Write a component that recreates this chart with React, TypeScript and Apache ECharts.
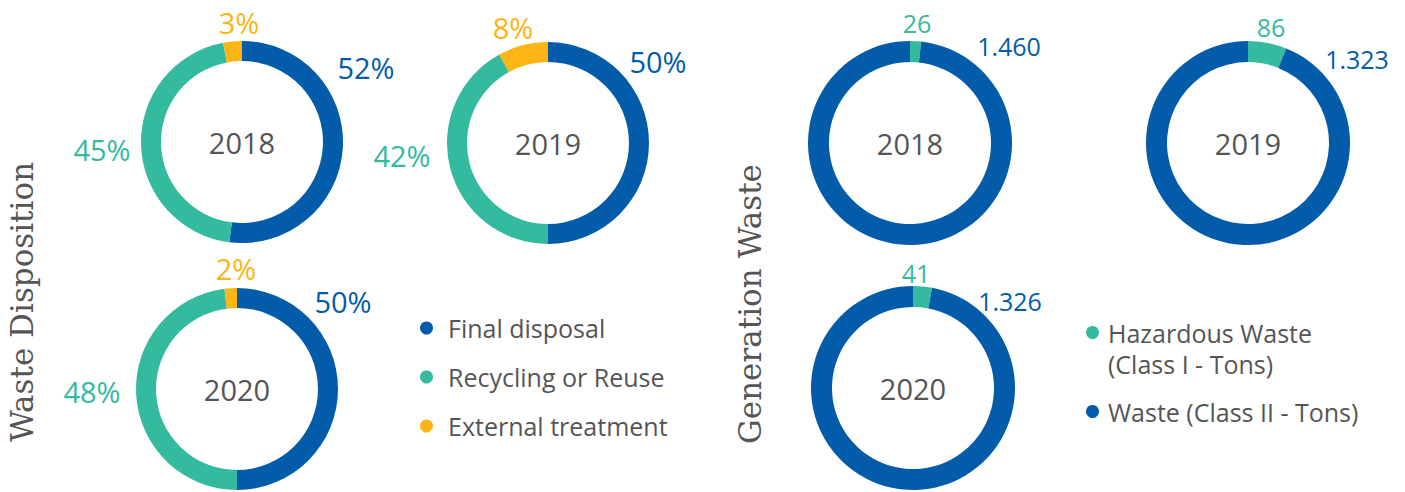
import { useEffect, useRef } from "react";
import * as echarts from "echarts";

// ---------- data ----------
const dispositionNames = ["Final disposal", "Recycling or Reuse", "External treatment"];
const dispositionYears = ["2018", "2019", "2020"];
const finalDisposal = [52, 50, 50];
const recyclingOrReuse = [45, 42, 48];
const externalTreatment = [3, 8, 2];

const generationNames = ["Hazardous Waste (Class I - Tons)", "Waste (Class II - Tons)"];
const generationYears = ["2018", "2019", "2020"];
const hazardousWaste = [26, 86, 41];
const classTwoWaste = [1460, 1323, 1326];

const titles = ["Waste Disposition", "Generation Waste"];

// ---------- layout / style ----------
const BLUE = "#035CA9";
const TEAL = "#34BA9F";
const YELLOW = "#FDB515";
const GRAY = "#555555";
const SANS = "'Open Sans', 'Noto Sans', sans-serif";
const SERIF = "'DejaVu Serif', serif";

const leftCenters = [[242, 142], [548, 143], [237, 389]];
const rightCenters = [[910, 143], [1248, 143], [913, 388]];
const leftLabelOffsets = [
  [[124, -75], [-140, 7], [-3, -120]],
  [[110, -82], [-146, 12], [-35, -116]],
  [[106, -88], [-145, 2], [-1, -121]],
];
const rightLabelOffsets = [
  [[7, -120], [99, -97]],
  [[23, -116], [109, -84]],
  [[3, -115], [97, -87]],
];

function fmtTons(n: number): string {
  if (n >= 1000) {
    return Math.floor(n / 1000) + "." + String(n % 1000).padStart(3, "0");
  }
  return String(n);
}

export default function App() {
  const ref = useRef<HTMLDivElement>(null);

  useEffect(() => {
    if (!ref.current) return;
    const chart = echarts.init(ref.current, undefined, { renderer: "svg" });

    const leftColors = [BLUE, TEAL, YELLOW];
    const rightColors = [TEAL, BLUE];

    const series: any[] = [];

    dispositionYears.forEach((year, i) => {
      const values = [finalDisposal[i], recyclingOrReuse[i], externalTreatment[i]];
      const [cx, cy] = leftCenters[i];
      series.push({
        type: "pie",
        name: "Waste Disposition " + year,
        center: [cx, cy],
        radius: [81, 101],
        startAngle: 90,
        clockwise: true,
        avoidLabelOverlap: false,
        silent: true,
        itemStyle: { borderWidth: 0 },
        labelLine: { show: false },
        label: {
          show: true,
          position: "outside",
          fontFamily: SANS,
          fontSize: 29,
          formatter: "{c}%",
        },
        labelLayout: (p: any) => {
          const [dx, dy] = leftLabelOffsets[i][p.dataIndex];
          return { x: cx + dx, y: cy + dy, align: "center", verticalAlign: "middle" };
        },
        data: dispositionNames.map((n, k) => ({
          name: n,
          value: values[k],
          itemStyle: { color: leftColors[k] },
          label: { color: leftColors[k] },
        })),
      });
    });

    generationYears.forEach((year, i) => {
      const values = [hazardousWaste[i], classTwoWaste[i]];
      const [cx, cy] = rightCenters[i];
      series.push({
        type: "pie",
        name: "Generation Waste " + year,
        center: [cx, cy],
        radius: [81, 102],
        startAngle: 90,
        clockwise: true,
        avoidLabelOverlap: false,
        silent: true,
        itemStyle: { borderWidth: 0 },
        labelLine: { show: false },
        label: {
          show: true,
          position: "outside",
          fontFamily: SANS,
          fontSize: 25,
          formatter: (p: any) => fmtTons(p.value),
        },
        labelLayout: (p: any) => {
          const [dx, dy] = rightLabelOffsets[i][p.dataIndex];
          return { x: cx + dx, y: cy + dy, align: "center", verticalAlign: "middle" };
        },
        data: generationNames.map((n, k) => ({
          name: n,
          value: values[k],
          itemStyle: { color: rightColors[k] },
          label: { color: rightColors[k] },
        })),
      });
    });

    const graphics: any[] = [];
    const yearText = (year: string, c: number[]) => ({
      type: "text",
      x: c[0],
      y: c[1],
      silent: true,
      style: {
        text: year,
        align: "center",
        verticalAlign: "middle",
        fontFamily: SANS,
        fontSize: 29,
        fill: GRAY,
      },
    });
    dispositionYears.forEach((year, i) => graphics.push(yearText(year, leftCenters[i])));
    generationYears.forEach((year, i) => graphics.push(yearText(year, rightCenters[i])));

    const sideTitle = (text: string, x: number, y: number) => ({
      type: "text",
      x,
      y,
      rotation: Math.PI / 2,
      silent: true,
      style: {
        text,
        align: "center",
        verticalAlign: "middle",
        fontFamily: SERIF,
        fontSize: 31,
        fontWeight: 300,
        fill: GRAY,
      },
    });
    graphics.push(sideTitle(titles[0], 22, 302));
    graphics.push(sideTitle(titles[1], 750, 304));

    chart.setOption({
      animation: false,
      backgroundColor: "#ffffff",
      legend: [
        {
          orient: "vertical",
          left: 420,
          top: 315,
          padding: 0,
          icon: "circle",
          itemWidth: 13,
          itemHeight: 13,
          itemGap: 23,
          selectedMode: false,
          data: dispositionNames,
          textStyle: {
            fontFamily: SANS,
            fontSize: 25,
            color: GRAY,
            lineHeight: 26,
            padding: [0, 0, 0, 10],
          },
        },
        {
          orient: "vertical",
          left: 1086,
          top: 286,
          padding: 0,
          icon: "circle",
          itemWidth: 13,
          itemHeight: 13,
          itemGap: 17,
          selectedMode: false,
          data: generationNames,
          formatter: (name: string) =>
            name === generationNames[0] ? "\n" + name.replace(" (", "\n(") : name,
          textStyle: {
            fontFamily: SANS,
            fontSize: 25,
            color: GRAY,
            lineHeight: 31,
            padding: [0, 0, 0, 4],
          },
        },
      ],
      graphic: graphics,
      series,
    });

    return () => chart.dispose();
  }, []);

  return (
    <div
      ref={ref}
      style={{ position: "absolute", left: 0, top: 0, width: 1405, height: 492 }}
    />
  );
}
